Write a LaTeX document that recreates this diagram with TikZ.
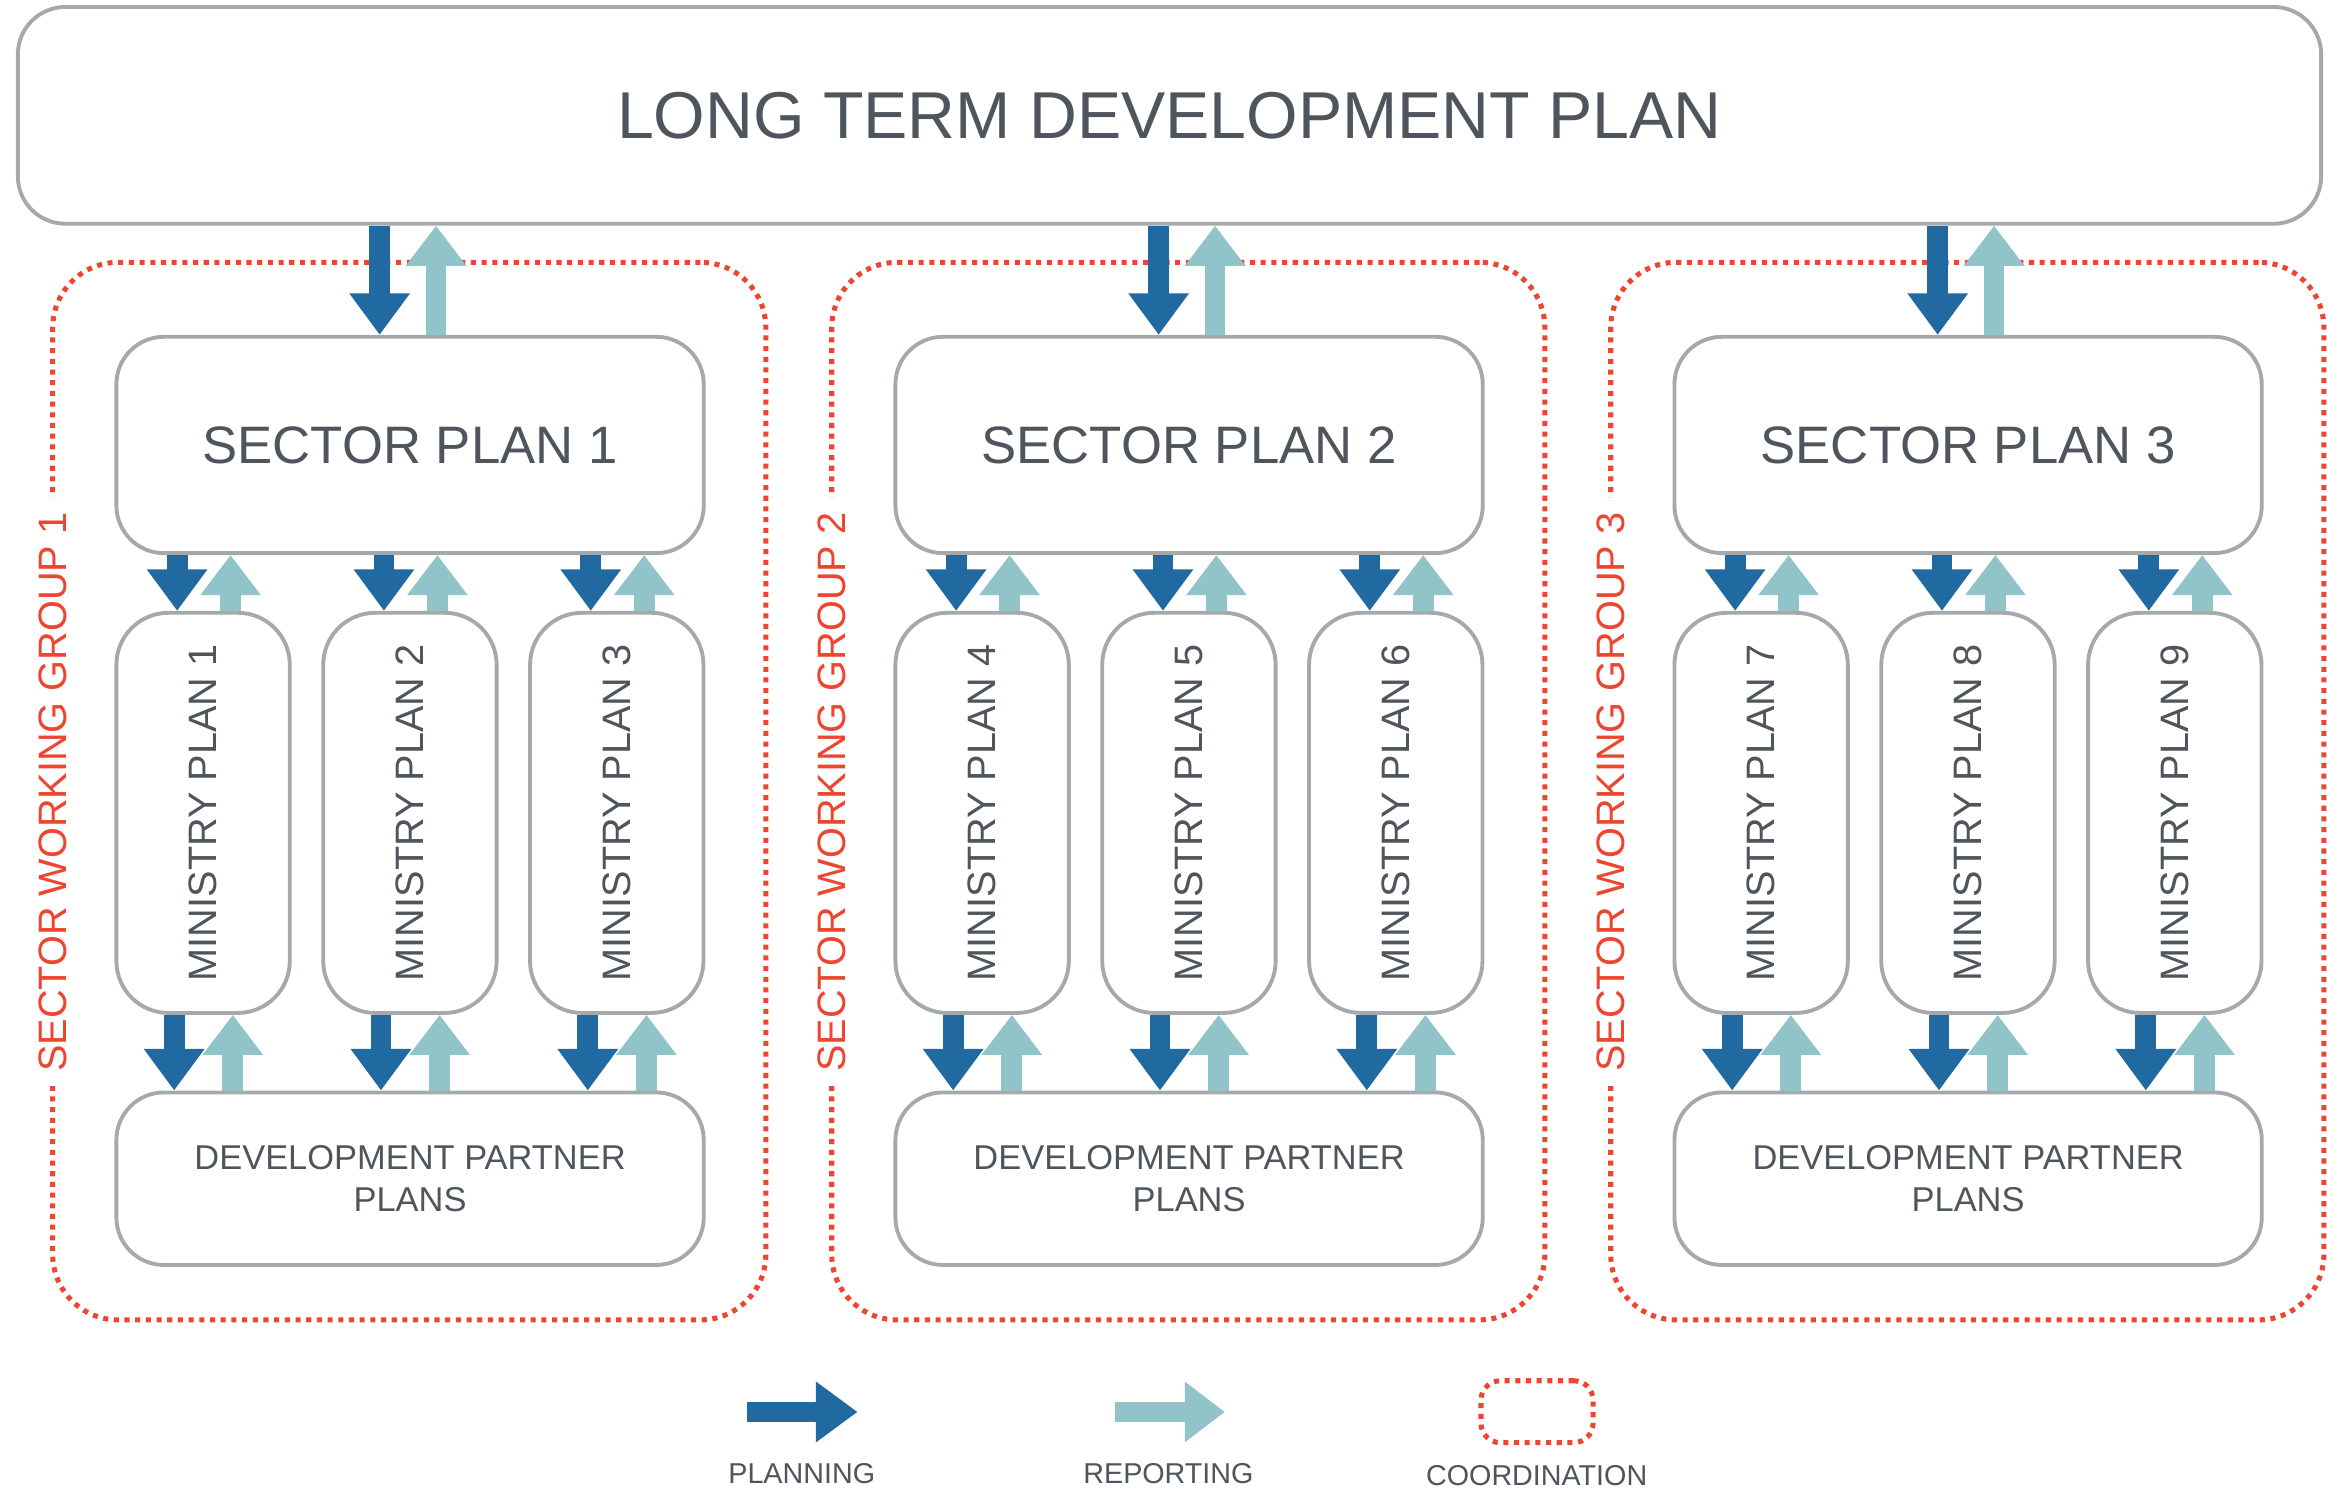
\documentclass[tikz,border=0pt]{standalone}
\usepackage{fontspec}
\usepackage{graphicx}
\setmainfont{Liberation Sans}
\usetikzlibrary{arrows.meta,calc}
\definecolor{plancol}{HTML}{2169A1}
\definecolor{repcol}{HTML}{90C4C8}
\definecolor{coordcol}{HTML}{EE4530}
\definecolor{boxgray}{HTML}{A6A9A9}
\definecolor{txtgray}{HTML}{4F555C}
\tikzset{
  box/.style={draw=boxgray, line width=0.26mm, rounded corners=3.2mm, fill=white,
    text=txtgray, inner sep=0pt, align=center},
  swgbox/.style={draw=coordcol, line width=0.34mm, dash pattern=on 0.34mm off 0.38mm,
    rounded corners=4.4mm, inner sep=0pt},
  swglabel/.style={rotate=90, fill=white, text=coordcol, inner xsep=1mm, inner ysep=0pt,
    font=\fontsize{7.6pt}{9pt}\selectfont},
  plan/.style={draw=plancol, line width=1.4mm, -{Triangle[length=2.8mm,width=3.9mm]}},
  rep/.style={draw=repcol, line width=1.4mm, -{Triangle[length=2.7mm,width=3.9mm]}},
  legtext/.style={text=txtgray, inner sep=0pt, font=\fontsize{5.5pt}{6.6pt}\selectfont},
}
\begin{document}
\begin{tikzpicture}[x=0.1mm, y=-0.1mm]
\fill[white] (0,0) rectangle (1568,1002.2);
\useasboundingbox (0,0) rectangle (1568,1002.2);

% sector working groups
\foreach \g in {1,2,3}{
  \pgfmathsetmacro\gx{(\g-1)*524.7}
  \node[swgbox, minimum width=48.03mm, minimum height=71.23mm] (g\g) at (275.65+\gx,532.85) {};
  \node[swglabel] (swg\g) at (35.5+\gx,533.5) {SECTOR WORKING GROUP \g};
}

% long term plan
\node[box, minimum width=155.14mm, minimum height=14.6mm,
  font=\fontsize{12.7pt}{15pt}\selectfont] (ltdp) at (787.7,77.7) {LONG TERM DEVELOPMENT PLAN};

\foreach \g in {1,2,3}{
  \pgfmathsetmacro\gx{(\g-1)*524.7}
  \node[box, minimum width=39.56mm, minimum height=14.57mm,
    font=\fontsize{10.1pt}{12pt}\selectfont] (sp\g) at (276.2+\gx,299.7) {SECTOR PLAN \g};
  \node[box, minimum width=39.56mm, minimum height=11.62mm,
    font=\fontsize{6.6pt}{8pt}\selectfont] (dpp\g) at (276.2+\gx,793.9) {DEVELOPMENT PARTNER\\PLANS};
  % LTDP <-> sector plan
  \coordinate (td\g) at ($(sp\g.north)+(-20.5,0)$);
  \coordinate (tu\g) at ($(sp\g.north)+(17.5,0)$);
  \draw[plan] (ltdp.south -| td\g) -- (td\g);
  \draw[rep] (tu\g) -- (ltdp.south -| tu\g);
  \foreach \m in {1,2,3}{
    \pgfmathtruncatemacro\n{3*(\g-1)+\m}
    \node[box, minimum width=11.68mm, minimum height=26.95mm, rounded corners=3.5mm,
      font=\fontsize{7.6pt}{9pt}\selectfont] (mp\n) at (136.8+\gx+\m*139.3-139.3,547.5)
      {\rotatebox{90}{MINISTRY PLAN \n}};
    % sector plan <-> ministry
    \coordinate (md\n) at ($(mp\n.north)+(-17.5,0)$);
    \coordinate (mu\n) at ($(mp\n.north)+(18.5,0)$);
    \draw[plan] (sp\g.south -| md\n) -- (md\n);
    \draw[rep] (mu\n) -- (sp\g.south -| mu\n);
    % ministry <-> development partner plans
    \coordinate (bd\n) at ($(mp\n.south)+(-19.5,0)$);
    \coordinate (bu\n) at ($(mp\n.south)+(20,0)$);
    \draw[plan] (bd\n) -- (dpp\g.north -| bd\n);
    \draw[rep] (dpp\g.north -| bu\n) -- (bu\n);
  }
}

% legend
\coordinate (lp1) at (503,951);
\coordinate (lp2) at (577.6,951);
\draw[plan] (lp1) -- (lp2);
\coordinate (lr1) at (751,951);
\coordinate (lr2) at (825,951);
\draw[rep] (lr1) -- (lr2);
\node[swgbox, minimum width=7.55mm, minimum height=4.17mm, rounded corners=1.3mm] (lc) at (1035.25,950.85) {};
\node[legtext] (lplan) at (540,992.3) {PLANNING};
\node[legtext] (lrep) at (787,992.3) {REPORTING};
\node[legtext] (lcoord) at (1035,994) {COORDINATION};
\end{tikzpicture}
\end{document}
